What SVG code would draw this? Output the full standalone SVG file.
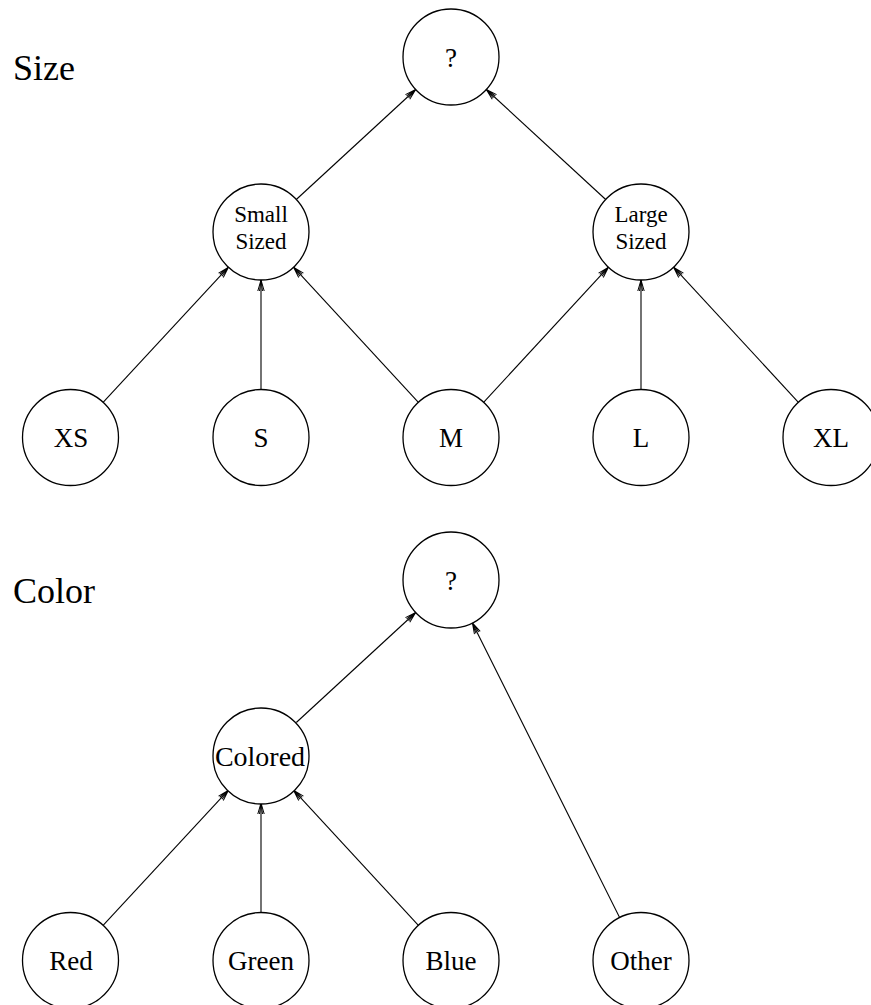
<svg xmlns="http://www.w3.org/2000/svg" width="871" height="1005" viewBox="0 0 871 1005">
<style>
.n circle{fill:#fff;stroke:#000;stroke-width:1.3}
.n text, .lbl{font-family:"Liberation Serif","Times New Roman",serif;fill:#000;text-anchor:middle}
.n text{font-size:27px}
.n text.two{font-size:23px}
.lbl{font-size:36px;text-anchor:start}
#edges line{stroke:#000;stroke-width:1.1;marker-end:url(#arr)}
</style>
<defs>
<marker id="arr" markerUnits="userSpaceOnUse" markerWidth="14" markerHeight="10" viewBox="-12 -5 14 10" refX="0" refY="0" orient="auto">
<path d="M-11,-3.2 L0,0 L-11,3.2 M-11,-1.5 L0,0 L-11,1.5" fill="none" stroke="#000" stroke-width="1"/>
</marker>
</defs>
<rect width="871" height="1005" fill="#fff"/>
<text class="lbl" x="13" y="80">Size</text>
<text class="lbl" x="13" y="603">Color</text>
<g id="edges">
<line x1="103.1" y1="402.3" x2="228.4" y2="267.2"/>
<line x1="261" y1="389.5" x2="261" y2="280"/>
<line x1="418.4" y1="402.3" x2="293.6" y2="267.2"/>
<line x1="483.6" y1="402.3" x2="608.4" y2="267.2"/>
<line x1="641" y1="389.5" x2="641" y2="280"/>
<line x1="798.4" y1="402.3" x2="673.6" y2="267.2"/>
<line x1="296.3" y1="199.5" x2="415.7" y2="89.5"/>
<line x1="605.7" y1="199.5" x2="486.3" y2="89.5"/>
<line x1="103.1" y1="925.3" x2="228.4" y2="790.2"/>
<line x1="261" y1="912.5" x2="261" y2="803"/>
<line x1="418.4" y1="925.3" x2="293.6" y2="790.2"/>
<line x1="296.3" y1="722.5" x2="415.7" y2="612.5"/>
<line x1="619.6" y1="917.6" x2="472.4" y2="622.9"/>
</g>
<g id="size_root" class="n"><circle cx="451" cy="57" r="48"/><text x="451" y="67">?</text></g>
<g id="small_sized" class="n"><circle cx="261" cy="232" r="48"/><text class="two" x="261" y="222">Small</text><text class="two" x="261" y="249">Sized</text></g>
<g id="large_sized" class="n"><circle cx="641" cy="232" r="48"/><text class="two" x="641" y="222">Large</text><text class="two" x="641" y="249">Sized</text></g>
<g id="xs" class="n"><circle cx="70.5" cy="437.5" r="48"/><text x="71" y="447">XS</text></g>
<g id="s" class="n"><circle cx="261" cy="437.5" r="48"/><text x="261" y="447">S</text></g>
<g id="m" class="n"><circle cx="451" cy="437.5" r="48"/><text x="451" y="447">M</text></g>
<g id="l" class="n"><circle cx="641" cy="437.5" r="48"/><text x="641" y="447">L</text></g>
<g id="xl" class="n"><circle cx="831" cy="437.5" r="48"/><text x="831" y="447">XL</text></g>
<g id="color_root" class="n"><circle cx="451" cy="580" r="48"/><text x="451" y="590">?</text></g>
<g id="colored" class="n"><circle cx="261" cy="756" r="48"/><text x="260" y="766" style="font-size:28px">Colored</text></g>
<g id="red" class="n"><circle cx="70.5" cy="960.5" r="48"/><text x="71" y="970">Red</text></g>
<g id="green" class="n"><circle cx="261" cy="960.5" r="48"/><text x="261" y="970">Green</text></g>
<g id="blue" class="n"><circle cx="451" cy="960.5" r="48"/><text x="451" y="970">Blue</text></g>
<g id="other" class="n"><circle cx="641" cy="960.5" r="48"/><text x="641" y="970">Other</text></g>
</svg>
